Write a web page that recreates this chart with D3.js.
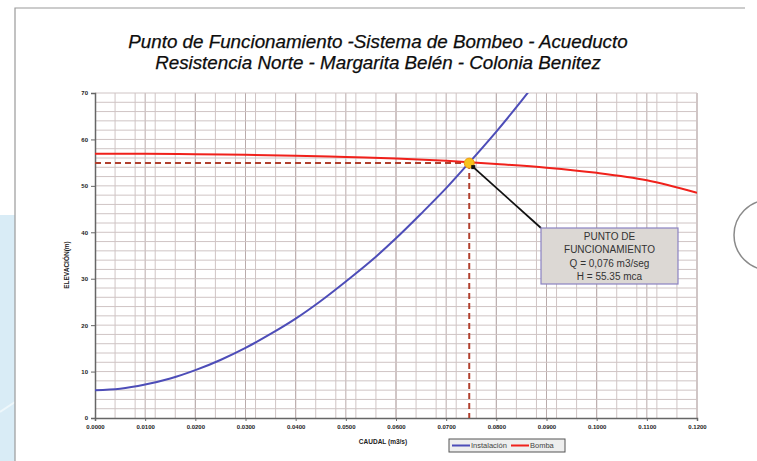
<!DOCTYPE html>
<html>
<head>
<meta charset="utf-8">
<script src="https://cdn.jsdelivr.net/npm/d3@7"></script>
<style>
  body { margin: 0; background: #fff; }
  svg { display: block; font-family: "Liberation Sans", Arial, sans-serif; }
</style>
</head>
<body>
<div id="chart"></div>
<script>
// Chart data
const caudal = [0, 0.005, 0.01, 0.015, 0.02, 0.025, 0.03, 0.035, 0.04, 0.045, 0.05,
  0.055, 0.06, 0.065, 0.07, 0.075, 0.08, 0.085, 0.09];
const instalacion = [6.0, 6.3, 7.2, 8.5, 10.3, 12.5, 15.1, 18.1, 21.4, 25.2, 29.4,
  33.8, 38.7, 44.0, 49.5, 55.5, 61.7, 68.3, 75.3];
const caudalBomba = [0, 0.01, 0.02, 0.03, 0.04, 0.05, 0.06, 0.07, 0.08, 0.09, 0.10, 0.11, 0.12];
const bomba = [56.9, 56.9, 56.8, 56.7, 56.5, 56.2, 55.9, 55.4, 54.7, 53.9, 52.8, 51.2, 48.5];
const puntoQ = 0.0746;
const puntoH = 54.9;
const xTicks = [0, 0.01, 0.02, 0.03, 0.04, 0.05, 0.06, 0.07, 0.08, 0.09, 0.10, 0.11, 0.12];
const yTicks = [0, 10, 20, 30, 40, 50, 60, 70];
const titleLines = [
  "Punto de Funcionamiento -Sistema de Bombeo - Acueducto",
  "Resistencia Norte - Margarita Belén - Colonia Benitez"
];
const noteLines = ["PUNTO DE", "FUNCIONAMIENTO", "Q = 0,076 m3/seg", "H = 55.35 mca"];

const width = 757, height = 461;
const plot = { left: 95, right: 697, top: 93, bottom: 418 };

const svg = d3.select('#chart').append('svg')
  .attr('width', width)
  .attr('height', height);

// Page decoration (scan background)
svg.append('rect').attr('x', 0).attr('y', 215).attr('width', 15).attr('height', 246)
  .attr('fill', '#d9ecf6');
svg.append('line').attr('x1', 0).attr('y1', 412).attr('x2', 15).attr('y2', 402)
  .attr('stroke', '#eef7fb').attr('stroke-width', 2);
svg.append('path')
  .attr('d', `M15,461 L15,8 L745,8`)
  .attr('fill', 'none').attr('stroke', '#9a9a9a').attr('stroke-width', 1.2);
svg.append('circle').attr('cx', 769).attr('cy', 235).attr('r', 35)
  .attr('fill', '#fff').attr('stroke', '#8a8a8a').attr('stroke-width', 1.5);

// Title
svg.append('g').selectAll('text')
  .data(titleLines)
  .join('text')
  .attr('x', 378)
  .attr('y', (d, i) => 48 + i * 21)
  .attr('text-anchor', 'middle')
  .attr('font-size', 18.8)
  .attr('font-style', 'italic')
  .attr('fill', '#0d0d0d')
  .attr('stroke', '#0d0d0d').attr('stroke-width', 0.25)
  .text(d => d);

// Scales
const x = d3.scaleLinear().domain([0, 0.12]).range([plot.left, plot.right]);
const y = d3.scaleLinear().domain([0, 70]).range([plot.bottom, plot.top]);

// Gridlines
const grid = svg.append('g');
grid.selectAll('.vminor')
  .data(d3.range(0.004, 0.1201, 0.004))
  .join('line')
  .attr('x1', d => x(d)).attr('x2', d => x(d))
  .attr('y1', plot.top).attr('y2', plot.bottom)
  .attr('stroke', '#cfc4c4').attr('stroke-width', 1);
grid.selectAll('.vmajor')
  .data(xTicks.slice(1))
  .join('line')
  .attr('x1', d => x(d)).attr('x2', d => x(d))
  .attr('y1', plot.top).attr('y2', plot.bottom)
  .attr('stroke', '#b9abab').attr('stroke-width', 1);
grid.selectAll('.hminor')
  .data(d3.range(2, 70.1, 2))
  .join('line')
  .attr('x1', plot.left).attr('x2', plot.right)
  .attr('y1', d => y(d)).attr('y2', d => y(d))
  .attr('stroke', '#cfc4c4').attr('stroke-width', 1);

// Axes
const xAxis = svg.append('g')
  .attr('transform', `translate(0,${plot.bottom})`)
  .call(d3.axisBottom(x).tickValues(xTicks).tickFormat(d3.format('.4f')).tickSize(3));
const yAxis = svg.append('g')
  .attr('transform', `translate(${plot.left},0)`)
  .call(d3.axisLeft(y).tickValues(yTicks).tickSize(4));
[xAxis, yAxis].forEach(a => {
  a.select('.domain').attr('stroke', '#666').attr('stroke-width', 1.5);
  a.selectAll('.tick line').attr('stroke', '#666');
  a.selectAll('text').attr('font-size', 6).attr('font-weight', 'bold').attr('fill', '#222');
});
xAxis.selectAll('text').attr('dy', '0.9em');

svg.append('text')
  .attr('x', 383).attr('y', 444)
  .attr('text-anchor', 'middle')
  .attr('font-size', 6.5).attr('font-weight', 'bold').attr('fill', '#222')
  .text('CAUDAL (m3/s)');
svg.append('text')
  .attr('transform', `translate(69,265) rotate(-90)`)
  .attr('text-anchor', 'middle')
  .attr('font-size', 6.5).attr('font-weight', 'bold').attr('fill', '#222')
  .text('ELEVACIÓN(m)');

// Curves
svg.append('clipPath').attr('id', 'clip')
  .append('rect')
  .attr('x', plot.left).attr('y', plot.top)
  .attr('width', plot.right - plot.left).attr('height', plot.bottom - plot.top);

const line = d3.line().curve(d3.curveMonotoneX)
  .x(d => x(d[0])).y(d => y(d[1]));
const curves = svg.append('g').attr('clip-path', 'url(#clip)');

// Operating point guides
curves.append('line')
  .attr('x1', x(0)).attr('x2', x(puntoQ))
  .attr('y1', y(puntoH)).attr('y2', y(puntoH))
  .attr('stroke', '#b0402e').attr('stroke-width', 2).attr('stroke-dasharray', '6,4');
curves.append('line')
  .attr('x1', x(puntoQ)).attr('x2', x(puntoQ))
  .attr('y1', y(puntoH)).attr('y2', y(0))
  .attr('stroke', '#b0402e').attr('stroke-width', 2).attr('stroke-dasharray', '6,4');

curves.append('path')
  .datum(caudal.map((q, i) => [q, instalacion[i]]))
  .attr('d', line)
  .attr('fill', 'none').attr('stroke', '#4d4db8').attr('stroke-width', 2);
curves.append('path')
  .datum(caudalBomba.map((q, i) => [q, bomba[i]]))
  .attr('d', line)
  .attr('fill', 'none').attr('stroke', '#f0211b').attr('stroke-width', 2);

svg.append('circle')
  .attr('cx', x(puntoQ)).attr('cy', y(puntoH)).attr('r', 5)
  .attr('fill', '#f7c21c').attr('stroke', '#f09a10').attr('stroke-width', 1);

// Annotation
const box = { x: 541, y: 228, w: 137, h: 56 };
svg.append('line')
  .attr('x1', x(puntoQ) + 4).attr('y1', y(puntoH) + 4)
  .attr('x2', box.x).attr('y2', box.y)
  .attr('stroke', '#111').attr('stroke-width', 1.8);
svg.append('rect')
  .attr('x', x(puntoQ) + 2).attr('y', y(puntoH) + 2)
  .attr('width', 4).attr('height', 4).attr('fill', '#111');
svg.append('rect')
  .attr('x', box.x).attr('y', box.y).attr('width', box.w).attr('height', box.h)
  .attr('fill', '#dcd8d4').attr('stroke', '#8b83c2').attr('stroke-width', 1.2);
svg.append('g').selectAll('text')
  .data(noteLines)
  .join('text')
  .attr('x', box.x + box.w / 2)
  .attr('y', (d, i) => box.y + 12 + i * 13.3)
  .attr('text-anchor', 'middle')
  .attr('font-size', 10)
  .attr('fill', '#333')
  .text(d => d);

// Legend
const legend = svg.append('g').attr('transform', 'translate(449,439)');
legend.append('rect').attr('width', 116).attr('height', 13)
  .attr('fill', '#eeeeee').attr('stroke', '#555').attr('stroke-width', 1);
const items = [
  { name: 'Instalación', color: '#4d4db8', x: 3 },
  { name: 'Bomba', color: '#f0211b', x: 62 }
];
items.forEach(it => {
  legend.append('line')
    .attr('x1', it.x).attr('x2', it.x + 18).attr('y1', 6.5).attr('y2', 6.5)
    .attr('stroke', it.color).attr('stroke-width', 2);
  legend.append('text')
    .attr('x', it.x + 19).attr('y', 9)
    .attr('font-size', 7.5).attr('fill', '#444')
    .text(it.name);
});
</script>
</body>
</html>
